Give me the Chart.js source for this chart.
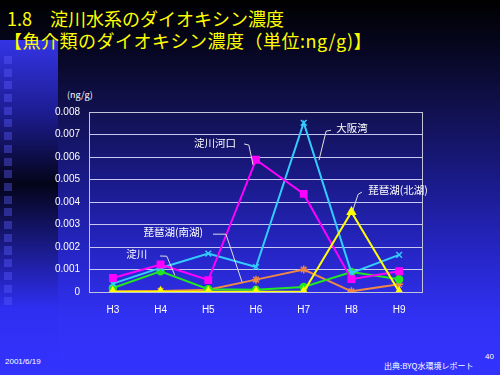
<!DOCTYPE html>
<html>
<head>
<meta charset="utf-8">
<script src="https://cdn.jsdelivr.net/npm/chart.js@4/dist/chart.umd.min.js"></script>
<style>
  html, body { margin: 0; padding: 0; }
  body {
    width: 500px; height: 375px; overflow: hidden; position: relative;
    background: linear-gradient(to bottom, #000000 0%, #06061e 12%, #10104c 28%, #1a1a88 48%, #2626c8 68%, #3131f4 85%, #3333ff 100%);
    font-family: "Noto Sans CJK JP", sans-serif;
  }
  #strip {
    position: absolute; left: 0; top: 40px; width: 58px; height: 335px;
    background: linear-gradient(to bottom, #3434e6 0%, #1c1c90 22%, #04041a 43%, #1a1a88 62%, #2e2ef0 80%, #3333ff 100%);
  }
  #squares {
    position: absolute; left: 4px; top: 56px; width: 8px; height: 250px;
    background: repeating-linear-gradient(to bottom, rgba(90,90,255,0.4) 0px, rgba(90,90,255,0.4) 8px, transparent 8px, transparent 12.7px);
  }
  .title { position: absolute; left: 7px; color: #ffff00; font-size: 18px; line-height: 20px; white-space: nowrap; }
  .foot { position: absolute; color: #ffffff; font-size: 8px; white-space: nowrap; }
  #chartBox { position: absolute; left: 0; top: 0; width: 500px; height: 375px; }
</style>
</head>
<body>
<div id="strip"></div>
<div id="squares"></div>
<div class="title" style="top:8px;">1.8　淀川水系のダイオキシン濃度</div>
<div class="title" style="top:30px;left:4px;letter-spacing:0.5px;">【魚介類のダイオキシン濃度（単位:ng/g)】</div>
<div class="foot" style="left:67px;top:88px;font-size:9px;">(ng/g)</div>
<div class="foot" style="left:5px;top:357px;font-family:Arial, sans-serif;">2001/6/19</div>
<div class="foot" style="left:384px;top:360px;">出典:BYQ水環境レポート</div>
<div class="foot" style="left:485px;top:352px;font-family:Arial, sans-serif;">40</div>
<div id="chartBox"><canvas id="c" width="500" height="375"></canvas></div>
<script>
const years = ['H3', 'H4', 'H5', 'H6', 'H7', 'H8', 'H9'];
const yodogawaKako = [0.00062, 0.00122, 0.00053, 0.00588, 0.00436, 0.00057, 0.00092];
const osakaWan = [0.00037, 0.00107, 0.00171, 0.00111, 0.00752, 0.00085, 0.00165];
const biwaNorth = [0.00001, 0.00001, 0.00001, 0.00001, 0.00001, 0.00356, 0.00001];
const biwaSouth = [0.00003, 0.00005, 0.0001, 0.00055, 0.001, 0.00003, 0.00034];
const yodogawa = [0.00018, 0.00092, 0.00012, 0.0001, 0.00022, 0.00089, 0.00057];
const yTicks = ['0', '0.001', '0.002', '0.003', '0.004', '0.005', '0.006', '0.007', '0.008'];

// callouts: text, text anchor (category index, value), leader line points
const callouts = [
  { text: '淀川河口', align: 'right', at: [2.58, 0.00662], line: [[2.75, 0.00658], [2.85, 0.00653], [2.94, 0.00564]] },
  { text: '大阪湾', align: 'left', at: [4.68, 0.00728], line: [[4.57, 0.00719], [4.47, 0.00715], [4.32, 0.00586]] },
  { text: '琵琶湖(北湖)', align: 'left', at: [5.35, 0.00452], line: [[5.22, 0.00444], [5.14, 0.00434], [5.03, 0.00364]] },
  { text: '琵琶湖(南湖)', align: 'right', at: [1.89, 0.00266], line: [[2.10, 0.00257], [2.37, 0.00257], [2.71, 0.00043]] },
  { text: '淀川', align: 'right', at: [0.72, 0.00168], line: [[0.99, 0.0016], [1.13, 0.00159], [1.30, 0.00074]] }
];

const calloutPlugin = {
  id: 'callouts',
  afterDatasetsDraw(chart) {
    const ctx = chart.ctx;
    const xs = chart.scales.x, ys = chart.scales.y;
    const px = (i) => xs.getPixelForValue(0) + i * (xs.getPixelForValue(1) - xs.getPixelForValue(0));
    ctx.save();
    ctx.font = '10.5px "Noto Sans CJK JP"';
    ctx.fillStyle = '#ffffff';
    ctx.strokeStyle = '#e0e0e0';
    ctx.lineWidth = 1;
    ctx.textBaseline = 'middle';
    callouts.forEach(c => {
      ctx.textAlign = c.align;
      ctx.fillText(c.text, px(c.at[0]), ys.getPixelForValue(c.at[1]));
      ctx.beginPath();
      c.line.forEach((p, k) => {
        const x = px(p[0]), y = ys.getPixelForValue(p[1]);
        if (k === 0) ctx.moveTo(x, y); else ctx.lineTo(x, y);
      });
      ctx.stroke();
    });
    ctx.restore();
  },
  beforeDatasetsDraw(chart) {
    const a = chart.chartArea, ctx = chart.ctx;
    ctx.save();
    ctx.strokeStyle = '#c4c4d8';
    ctx.lineWidth = 1;
    ctx.strokeRect(a.left + 0.5, a.top + 0.5, a.right - a.left - 1, a.bottom - a.top);
    ctx.restore();
  }
};

const ds = (label, data, color, style, radius) => ({
  label, data,
  borderColor: color, backgroundColor: color,
  pointBackgroundColor: color, pointBorderColor: color,
  borderWidth: 2, pointStyle: style, pointRadius: radius, pointBorderWidth: 1.5,
  tension: 0
});

new Chart(document.getElementById('c'), {
  type: 'line',
  data: {
    labels: years,
    datasets: [
      ds('琵琶湖(北湖)', biwaNorth, '#ffff00', 'triangle', 4.5),
      ds('淀川河口', yodogawaKako, '#ff00ff', 'rect', 4.5),
      ds('大阪湾', osakaWan, '#33ccff', 'crossRot', 4),
      ds('淀川', yodogawa, '#22e622', 'circle', 3.5),
      ds('琵琶湖(南湖)', biwaSouth, '#ee8844', 'star', 4)
    ]
  },
  options: {
    responsive: false,
    animation: false,
    layout: { padding: { left: 0, top: 112, right: 77, bottom: 0 } },
    plugins: { legend: { display: false }, tooltip: { enabled: false } },
    scales: {
      x: {
        offset: true,
        grid: { display: false, drawTicks: false },
        border: { display: false },
        ticks: { color: '#ffffff', font: { family: 'Arial', size: 10 }, padding: 12 },
        afterFit(s) { s.height = 83; }
      },
      y: {
        min: 0, max: 0.008,
        grid: { color: '#c8c8f0', lineWidth: 1, drawTicks: false },
        border: { display: false },
        ticks: {
          stepSize: 0.001, color: '#ffffff', font: { family: 'Arial', size: 10 }, padding: 9,
          callback: (v, i) => yTicks[i]
        },
        afterFit(s) { s.width = 89; }
      }
    }
  },
  plugins: [calloutPlugin]
});
</script>
</body>
</html>
